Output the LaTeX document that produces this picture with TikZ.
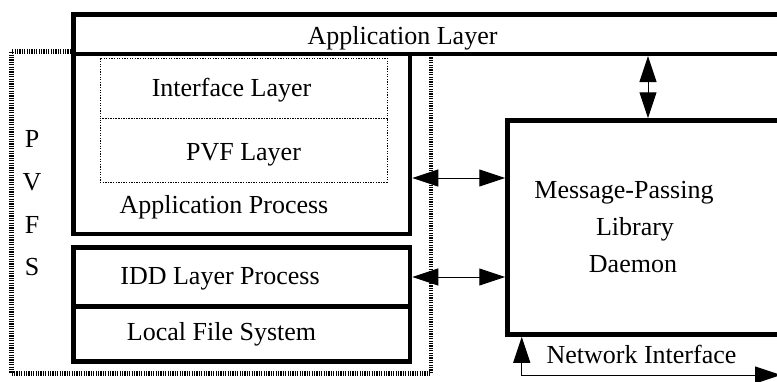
\documentclass[tikz,border=0pt]{standalone}
\usepackage{fontspec}
\setmainfont{Liberation Serif}
\usetikzlibrary{arrows.meta,calc}

\tikzset{
  layerbox/.style={draw, line width=4.5pt, inner sep=0pt, minimum width=#1},
  thinbox/.style={draw, line width=0.9pt, dash pattern=on 1.3pt off 1.3pt, inner sep=0pt, minimum width=287pt},
  pvfsline/.style={draw, inner sep=0pt, line width=4.5pt, black, dash pattern=on 1.2pt off 1.2pt,
    preaction={draw, line width=4.5pt, black!45}},
  lbl/.style={anchor=base, inner sep=0pt, font=\fontsize{26}{30}\selectfont},
  dbl/.style={line width=1pt, {Triangle[length=26pt,width=17pt]}-{Triangle[length=26pt,width=17pt]}},
}

\begin{document}
\begin{tikzpicture}[x=1pt, y=-1pt]
  \useasboundingbox (0,0) rectangle (777,381);
  \clip (0,0) rectangle (777,381);

  % PVFS enclosure (textured border)
  \node[pvfsline, minimum width=419.5pt, minimum height=322pt] (pvfs) at (221.25,212.5) {};

  % application layer across the top
  \node[layerbox=726.5pt, minimum height=39.5pt, fill=white] (applayer) at (436.75,34) {};

  % application process with its inner layers
  \node[layerbox=336.5pt, minimum height=180pt] (appproc) at (241.75,143.75) {};
  \node[thinbox, minimum height=60pt] (iface) at (243.5,88) {};
  \node[thinbox, minimum height=64pt] (pvf) at (243.5,150) {};

  % IDD process and local file system
  \node[layerbox=336.5pt, minimum height=59pt] (idd) at (241.75,277) {};
  \node[layerbox=336.5pt, minimum height=55pt] (lfs) at (241.75,334) {};

  % message-passing library daemon
  \node[layerbox=292.5pt, minimum height=214pt] (mp) at (653.75,227.5) {};

  % texts
  \node[lbl] (tapp)  at (402.5,44)  {Application Layer};
  \node[lbl] (tif)   at (231.5,96)  {Interface Layer};
  \node[lbl] (tpvf)  at (243.5,160) {PVF Layer};
  \node[lbl] (tproc) at (224,213)   {Application Process};
  \node[lbl] (tidd)  at (220,284)   {IDD Layer Process};
  \node[lbl] (tlfs)  at (221.5,340) {Local File System};
  \node[lbl] (lp) at (32,147) {P};
  \node[lbl] (lv) at (32,190) {V};
  \node[lbl] (lf) at (32,233) {F};
  \node[lbl] (ls) at (32,275) {S};
  \node[lbl] (tmp1) at (624,198) {Message-Passing};
  \node[lbl] (tmp2) at (635,235) {Library};
  \node[lbl] (tmp3) at (633,272) {Daemon};
  \node[lbl] (tnet) at (641.5,363) {Network Interface};

  % connectors
  \coordinate (vtop) at ([xshift=-5.75pt]mp.north);
  \draw[dbl] (vtop |- applayer.south) -- (vtop);

  \coordinate (h1) at ([yshift=-34.25pt]appproc.east);
  \draw[dbl] (h1) -- (h1 -| mp.west);
  \draw[dbl] (idd.east) -- (idd.east -| mp.west);

  \coordinate (netend) at (781,375);
  \draw[dbl] ([xshift=16.5pt]mp.south west) |- (netend);
\end{tikzpicture}
\end{document}
